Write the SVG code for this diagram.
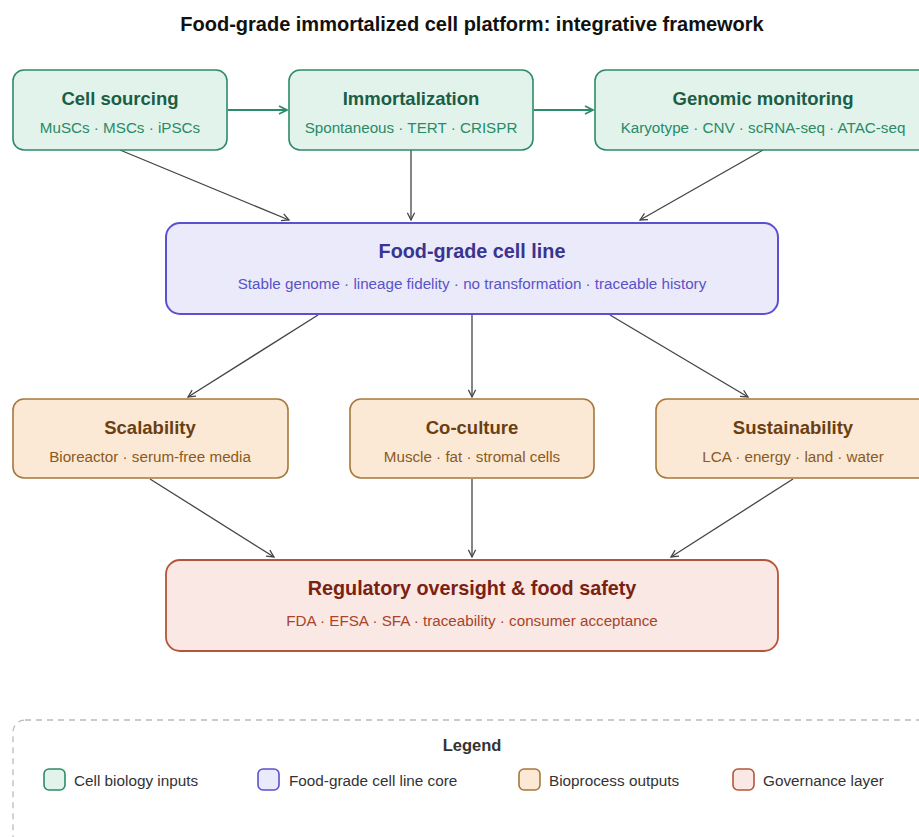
<svg xmlns="http://www.w3.org/2000/svg" width="919" height="837" viewBox="0 0 919 837">
<style>
text{font-family:"Liberation Sans",Arial,sans-serif;text-anchor:middle}
.t{font-weight:bold;font-size:18.5px}
.s{font-size:15.2px}
.g rect{fill:#e2f3ec;stroke:#2e8b6a;stroke-width:1.6}
.g .t{fill:#1b5e45}.g .s{fill:#2a8a66}
.p rect{fill:#ebeafa;stroke:#5b50d0;stroke-width:2}
.p .t{fill:#3a3390}.p .s{fill:#5a52c8}
.o rect{fill:#fbe9d6;stroke:#a8773a;stroke-width:1.6}
.o .t{fill:#6a3f12}.o .s{fill:#8a5a1e}
.r rect{fill:#fae8e4;stroke:#b4553a;stroke-width:1.8}
.r .t{fill:#7a2212}.r .s{fill:#a8442a}
.c line{stroke:#444;stroke-width:1.3;marker-end:url(#ag)}
.c line.gr{stroke:#2e8b6a;stroke-width:2.2;marker-end:url(#agr)}
.lg{font-size:15.3px;fill:#333;text-anchor:start}
</style>
<defs>
<marker id="ag" viewBox="0 0 10 10" refX="9" refY="5" markerWidth="9" markerHeight="9" markerUnits="userSpaceOnUse" orient="auto"><path d="M1,1 L9,5 L1,9" fill="none" stroke="#444" stroke-width="1.4"/></marker>
<marker id="agr" viewBox="0 0 10 10" refX="9" refY="5" markerWidth="10" markerHeight="10" markerUnits="userSpaceOnUse" orient="auto"><path d="M1,1 L9,5 L1,9" fill="none" stroke="#2e8b6a" stroke-width="1.8"/></marker>
</defs>
<rect width="919" height="837" fill="#fff"/>
<text x="472" y="31" style="font-weight:bold;font-size:20px;fill:#111">Food-grade immortalized cell platform: integrative framework</text>

<g class="c" id="connectors">
<line class="gr" x1="228" y1="110" x2="287" y2="110"/>
<line class="gr" x1="534" y1="110" x2="593" y2="110"/>
<line x1="120" y1="150" x2="289" y2="220"/>
<line x1="411" y1="150" x2="411" y2="220"/>
<line x1="763" y1="150" x2="640" y2="220"/>
<line x1="318" y1="315" x2="188" y2="397"/>
<line x1="472" y1="315" x2="472" y2="397"/>
<line x1="610" y1="315" x2="748" y2="397"/>
<line x1="150" y1="479" x2="274" y2="557"/>
<line x1="472" y1="479" x2="472" y2="557"/>
<line x1="793" y1="479" x2="671" y2="557"/>
</g>

<g id="cell-sourcing" class="g"><rect x="13" y="70" width="214" height="80" rx="11"/><text class="t" x="120" y="105">Cell sourcing</text><text class="s" x="120" y="133">MuSCs · MSCs · iPSCs</text></g>
<g id="immortalization" class="g"><rect x="289" y="70" width="244" height="80" rx="11"/><text class="t" x="411" y="105">Immortalization</text><text class="s" x="411" y="133">Spontaneous · TERT · CRISPR</text></g>
<g id="genomic-monitoring" class="g"><rect x="595" y="70" width="336" height="80" rx="11"/><text class="t" x="763" y="105">Genomic monitoring</text><text class="s" x="763" y="133">Karyotype · CNV · scRNA-seq · ATAC-seq</text></g>

<g id="food-grade-cell-line" class="p"><rect x="166" y="223" width="612" height="91" rx="14"/><text class="t" x="472" y="258" style="font-size:19.8px">Food-grade cell line</text><text class="s" x="472" y="289">Stable genome · lineage fidelity · no transformation · traceable history</text></g>

<g id="scalability" class="o"><rect x="13" y="399" width="275" height="79" rx="11"/><text class="t" x="150" y="434">Scalability</text><text class="s" x="150" y="462">Bioreactor · serum-free media</text></g>
<g id="co-culture" class="o"><rect x="350" y="399" width="244" height="79" rx="11"/><text class="t" x="472" y="434">Co-culture</text><text class="s" x="472" y="462">Muscle · fat · stromal cells</text></g>
<g id="sustainability" class="o"><rect x="656" y="399" width="276" height="79" rx="11"/><text class="t" x="793" y="434">Sustainability</text><text class="s" x="793" y="462">LCA · energy · land · water</text></g>

<g id="regulatory" class="r"><rect x="166" y="560" width="612" height="91" rx="14"/><text class="t" x="472" y="595" style="font-size:19.8px">Regulatory oversight &amp; food safety</text><text class="s" x="472" y="626">FDA · EFSA · SFA · traceability · consumer acceptance</text></g>

<g id="legend">
<rect x="13" y="720" width="930" height="140" rx="12" fill="none" stroke="#bbb" stroke-width="1.3" stroke-dasharray="6,5"/>
<text x="472" y="751" style="font-weight:bold;font-size:16.5px;fill:#333">Legend</text>
<g class="g"><rect x="44" y="769" width="21" height="21" rx="5"/></g><text class="lg" x="74" y="786">Cell biology inputs</text>
<g class="p"><rect x="258" y="769" width="21" height="21" rx="5" style="stroke-width:1.6"/></g><text class="lg" x="289" y="786">Food-grade cell line core</text>
<g class="o"><rect x="519" y="769" width="21" height="21" rx="5"/></g><text class="lg" x="549" y="786">Bioprocess outputs</text>
<g class="r"><rect x="733" y="769" width="21" height="21" rx="5" style="stroke-width:1.6"/></g><text class="lg" x="763" y="786">Governance layer</text>
</g>
</svg>
